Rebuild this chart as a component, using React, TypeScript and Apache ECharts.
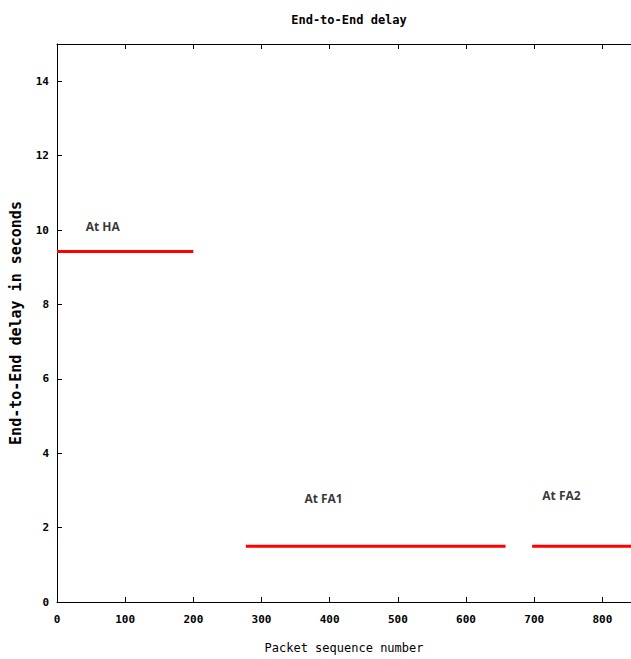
import React, { useEffect, useRef } from "react";
import * as echarts from "echarts";

const haSegment: [number, number][] = [[0, 9.42], [200, 9.42]];
const fa1Segment: [number, number][] = [[277, 1.5], [658, 1.5]];
const fa2Segment: [number, number][] = [[697, 1.5], [842, 1.5]];
const annotations: [number, number, string][] = [
  [67, 10.1, "At HA"],
  [391, 2.78, "At FA1"],
  [740, 2.86, "At FA2"],
];

const mono = "DejaVu Sans Mono";

export default function App() {
  const ref = useRef<HTMLDivElement>(null);
  useEffect(() => {
    if (!ref.current) return;
    const chart = echarts.init(ref.current, undefined, { renderer: "svg" });
    const lineSeries = (data: [number, number][]) => ({
      type: "line",
      data,
      symbol: "none",
      lineStyle: { color: "#ff0000", width: 3 },
      silent: true,
    });
    chart.setOption({
      animation: false,
      backgroundColor: "#ffffff",
      title: {
        text: "End-to-End delay",
        left: 344,
        textAlign: "center",
        top: 9,
        textStyle: { fontFamily: mono, fontSize: 12, fontWeight: "bold", color: "#000" },
      },
      grid: { left: 56, right: 0, top: 44, bottom: 55 },
      xAxis: [
        {
          type: "value",
          min: 0,
          max: 842,
          interval: 100,
          name: "Packet sequence number",
          nameLocation: "middle",
          nameGap: 40,
          nameTextStyle: { fontFamily: mono, fontSize: 12, color: "#000" },
          axisLine: { lineStyle: { color: "#000", width: 1 } },
          axisTick: { inside: true, length: 5, lineStyle: { color: "#000" } },
          axisLabel: {
            fontFamily: mono,
            fontSize: 11,
            fontWeight: "bold",
            color: "#000",
            margin: 12,
            showMaxLabel: false,
          },
          splitLine: { show: false },
        },
        {
          type: "value",
          position: "top",
          min: 0,
          max: 842,
          interval: 100,
          axisLine: { lineStyle: { color: "#000", width: 1 } },
          axisTick: { inside: true, length: 5, lineStyle: { color: "#000" } },
          axisLabel: { show: false },
          splitLine: { show: false },
        },
      ],
      yAxis: {
        type: "value",
        min: 0,
        max: 15,
        interval: 2,
        name: "End-to-End delay in seconds",
        nameLocation: "middle",
        nameGap: 34,
        nameTextStyle: { fontFamily: mono, fontSize: 15, fontWeight: "bold", color: "#000" },
        axisLine: { show: true, lineStyle: { color: "#000", width: 1 } },
        axisTick: { show: true, inside: true, length: 5, lineStyle: { color: "#000" } },
        axisLabel: {
          fontFamily: mono,
          fontSize: 11,
          fontWeight: "bold",
          color: "#000",
          margin: 8,
          showMaxLabel: false,
        },
        splitLine: { show: false },
      },
      series: [
        lineSeries(haSegment),
        lineSeries(fa1Segment),
        lineSeries(fa2Segment),
        {
          type: "scatter",
          data: annotations,
          symbolSize: 0,
          silent: true,
          label: {
            show: true,
            position: "inside",
            formatter: (p: any) => p.data[2],
            fontFamily: "Open Sans",
            fontSize: 12,
            fontWeight: "bold",
            color: "#000",
            textBorderWidth: 0,
          },
        },
      ],
    });
    return () => chart.dispose();
  }, []);
  return (
    <div
      ref={ref}
      style={{ position: "fixed", left: 0, top: 0, width: 631, height: 659 }}
    />
  );
}
